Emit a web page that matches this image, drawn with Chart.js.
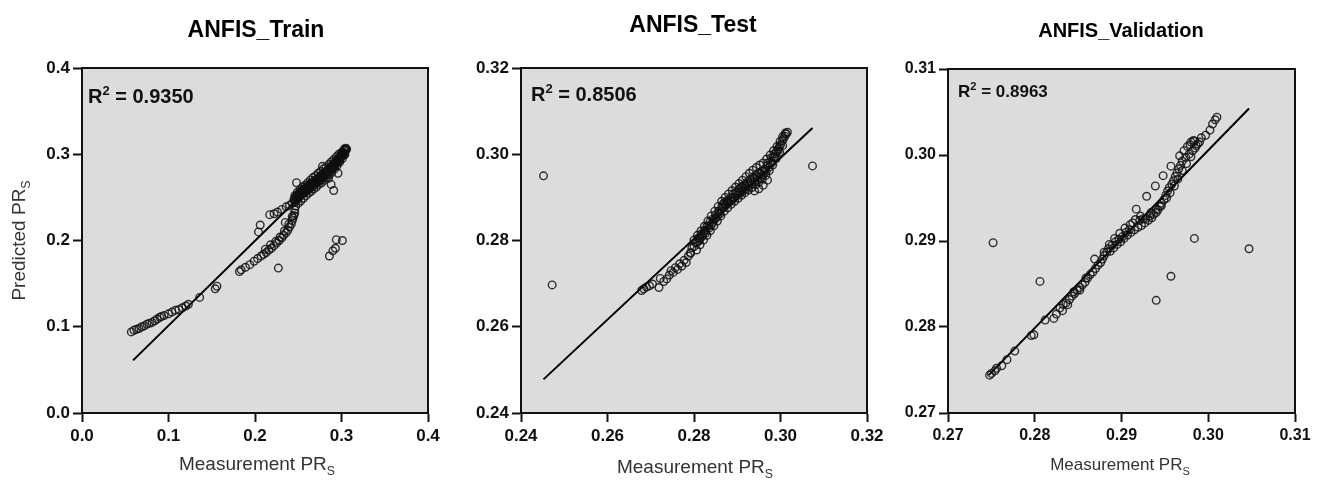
<!DOCTYPE html>
<html>
<head>
<meta charset="utf-8">
<script src="https://cdn.jsdelivr.net/npm/chart.js@4.4.1/dist/chart.umd.min.js"></script>
<style>
  body { margin: 0; background: #fff; }
  #wrap { position: relative; width: 1322px; height: 482px; }
  canvas { position: absolute; top: 0; }
</style>
</head>
<body>
<div id="wrap">
  <canvas id="c1" width="480" height="482" style="left:0px"></canvas>
  <canvas id="c2" width="480" height="482" style="left:440px"></canvas>
  <canvas id="c3" width="442" height="482" style="left:880px"></canvas>
</div>
<script>
// ---- data ----
const trainPts = [
  [0.057,0.094],[0.060,0.096],[0.063,0.097],[0.066,0.098],[0.069,0.100],[0.072,0.101],[0.075,0.103],[0.078,0.104],
  [0.081,0.105],[0.084,0.107],[0.087,0.109],[0.090,0.111],[0.092,0.112],[0.095,0.113],[0.100,0.115],[0.104,0.117],
  [0.108,0.119],[0.112,0.120],[0.116,0.122],[0.120,0.124],[0.123,0.126],[0.136,0.134],[0.154,0.144],[0.156,0.147],
  [0.182,0.164],[0.184,0.166],[0.189,0.169],[0.194,0.172],[0.199,0.176],[0.203,0.179],[0.207,0.182],[0.210,0.184],
  [0.213,0.186],[0.216,0.189],[0.219,0.191],[0.222,0.194],[0.225,0.197],[0.228,0.200],[0.231,0.203],[0.233,0.206],
  [0.236,0.209],[0.238,0.212],[0.240,0.216],[0.242,0.219],[0.243,0.223],[0.244,0.226],[0.245,0.229],[0.246,0.232],
  [0.212,0.190],[0.218,0.195],[0.224,0.199],[0.229,0.204],[0.234,0.211],[0.239,0.219],[0.243,0.228],[0.246,0.236],
  [0.247,0.240],
  [0.227,0.168],
  [0.204,0.210],[0.206,0.218],[0.217,0.230],[0.222,0.231],[0.226,0.233],[0.231,0.236],[0.236,0.239],[0.240,0.241],
  [0.235,0.221],[0.248,0.267],
  [0.243,0.243],[0.245,0.248],[0.246,0.244],[0.247,0.251],[0.248,0.246],[0.249,0.253],[0.250,0.249],[0.251,0.255],
  [0.252,0.251],[0.253,0.257],[0.254,0.253],[0.255,0.258],[0.256,0.255],[0.257,0.260],[0.258,0.256],[0.259,0.261],
  [0.260,0.258],[0.261,0.263],[0.262,0.259],[0.263,0.264],[0.264,0.261],[0.265,0.266],[0.266,0.262],[0.267,0.268],
  [0.268,0.264],[0.269,0.269],[0.270,0.266],[0.271,0.271],[0.272,0.267],[0.273,0.272],[0.274,0.269],[0.275,0.274],
  [0.276,0.270],[0.277,0.276],[0.278,0.272],[0.279,0.277],[0.280,0.274],[0.281,0.279],[0.282,0.276],[0.283,0.281],
  [0.284,0.278],[0.285,0.283],[0.286,0.280],[0.287,0.285],[0.288,0.282],[0.289,0.287],[0.290,0.284],[0.291,0.289],
  [0.292,0.287],[0.293,0.291],[0.294,0.289],[0.295,0.293],[0.296,0.292],[0.297,0.295],[0.298,0.294],[0.299,0.297],
  [0.300,0.297],[0.301,0.300],[0.302,0.300],[0.303,0.302],[0.304,0.304],[0.305,0.305],[0.306,0.306],
  [0.246,0.252],[0.249,0.256],[0.252,0.259],[0.255,0.262],[0.258,0.264],[0.261,0.267],[0.264,0.270],[0.267,0.273],
  [0.270,0.275],[0.273,0.278],[0.276,0.280],[0.279,0.283],[0.282,0.285],[0.285,0.288],[0.288,0.291],[0.291,0.294],
  [0.294,0.297],[0.297,0.300],[0.300,0.302],[0.303,0.306],[0.305,0.307],
  [0.250,0.243],[0.253,0.246],[0.256,0.249],[0.259,0.252],[0.262,0.255],[0.265,0.257],[0.268,0.260],[0.271,0.262],
  [0.274,0.265],[0.277,0.267],[0.280,0.270],[0.283,0.273],[0.286,0.276],[0.289,0.279],[0.292,0.283],[0.295,0.287],
  [0.298,0.291],[0.301,0.295],[0.304,0.300],
  [0.2475,0.249],[0.2505,0.252],[0.2535,0.255],[0.2565,0.258],[0.2595,0.2605],[0.2625,0.263],[0.2655,0.2655],
  [0.2685,0.268],[0.2715,0.2705],[0.2745,0.273],[0.2775,0.2755],[0.2805,0.278],[0.2835,0.281],[0.2865,0.284],
  [0.2895,0.287],[0.2925,0.2905],[0.2955,0.294],[0.2985,0.298],[0.3015,0.302],[0.3045,0.305],
  [0.246,0.247],[0.249,0.250],[0.252,0.254],[0.255,0.254],[0.258,0.260],[0.261,0.259],[0.264,0.266],[0.267,0.263],
  [0.270,0.270],[0.273,0.269],[0.276,0.275],[0.279,0.273],[0.282,0.280],[0.285,0.278],[0.288,0.286],[0.291,0.285],
  [0.294,0.293],[0.297,0.292],[0.300,0.300],[0.303,0.299],
  [0.278,0.286],[0.285,0.272],[0.288,0.265],[0.291,0.258],[0.296,0.278],
  [0.286,0.182],[0.290,0.188],[0.293,0.191],[0.294,0.201],[0.301,0.200]
];
const trainFitX = [0.059, 0.305];
const trainFitY = [0.061, 0.303];

const testPts = [
  [0.2452,0.2950],[0.2472,0.2697],[0.3074,0.2973],
  [0.2679,0.2684],[0.2684,0.2688],[0.2690,0.2692],[0.2697,0.2695],[0.2704,0.2699],[0.2719,0.2691],[0.2722,0.2712],
  [0.2730,0.2705],[0.2737,0.2711],[0.2743,0.2720],[0.2747,0.2730],[0.2752,0.2726],[0.2757,0.2737],[0.2762,0.2733],
  [0.2767,0.2746],[0.2772,0.2741],[0.2777,0.2754],[0.2782,0.2749],[0.2787,0.2764],[0.2792,0.2770],
  [0.2792,0.2772],[0.2795,0.2783],[0.2800,0.2786],[0.2803,0.2795],[0.2807,0.2795],[0.2810,0.2806],[0.2814,0.2803],
  [0.2817,0.2815],[0.2820,0.2812],[0.2824,0.2823],[0.2827,0.2822],[0.2830,0.2833],[0.2834,0.2834],[0.2837,0.2843],
  [0.2840,0.2836],[0.2844,0.2850],[0.2847,0.2848],[0.2850,0.2860],[0.2854,0.2856],[0.2857,0.2868],[0.2860,0.2862],
  [0.2864,0.2878],[0.2867,0.2875],[0.2870,0.2887],[0.2874,0.2882],[0.2877,0.2893],[0.2880,0.2888],[0.2884,0.2899],
  [0.2887,0.2893],[0.2890,0.2907],[0.2894,0.2900],[0.2897,0.2912],[0.2900,0.2905],[0.2904,0.2919],[0.2907,0.2910],
  [0.2910,0.2925],[0.2914,0.2915],[0.2917,0.2930],[0.2920,0.2920],[0.2924,0.2936],[0.2927,0.2926],[0.2930,0.2942],
  [0.2934,0.2931],[0.2937,0.2947],[0.2940,0.2936],[0.2944,0.2952],[0.2947,0.2941],[0.2950,0.2957],[0.2954,0.2946],
  [0.2957,0.2961],[0.2960,0.2952],[0.2964,0.2966],[0.2967,0.2960],[0.2970,0.2974],[0.2974,0.2970],[0.2977,0.2983],
  [0.2980,0.2980],[0.2984,0.2993],[0.2987,0.2994],[0.2990,0.3005],[0.2994,0.3008],[0.2997,0.3017],[0.3000,0.3022],
  [0.3004,0.3031],[0.3007,0.3036],[0.3010,0.3042],[0.3013,0.3047],[0.3016,0.3051],
  [0.2800,0.2801],[0.2808,0.2812],[0.2816,0.2822],[0.2824,0.2833],[0.2832,0.2845],[0.2840,0.2857],[0.2848,0.2868],
  [0.2856,0.2879],[0.2864,0.2891],[0.2872,0.2900],[0.2880,0.2908],[0.2888,0.2916],[0.2896,0.2924],[0.2904,0.2932],
  [0.2912,0.2940],[0.2920,0.2948],[0.2928,0.2956],[0.2936,0.2963],[0.2944,0.2969],[0.2952,0.2975],[0.2960,0.2980],
  [0.2968,0.2989],[0.2976,0.2998],[0.2984,0.3008],[0.2992,0.3018],[0.2999,0.3030],[0.3005,0.3041],[0.3011,0.3049],
  [0.2806,0.2778],[0.2814,0.2790],[0.2822,0.2801],[0.2830,0.2812],[0.2838,0.2823],[0.2846,0.2834],[0.2854,0.2845],
  [0.2862,0.2857],[0.2870,0.2868],[0.2878,0.2876],[0.2886,0.2884],[0.2894,0.2891],[0.2902,0.2898],[0.2910,0.2905],
  [0.2918,0.2911],[0.2926,0.2917],[0.2934,0.2923],[0.2942,0.2929],[0.2950,0.2935],[0.2958,0.2942],[0.2966,0.2951],
  [0.2974,0.2962],[0.2982,0.2975],[0.2990,0.2990],[0.2998,0.3005],[0.3005,0.3020],
  [0.2940,0.2915],[0.2950,0.2920],[0.2960,0.2928],[0.2970,0.2940],
  [0.2811,0.2799],[0.2819,0.2810],[0.2827,0.2817],[0.2835,0.2829],[0.2843,0.2842],[0.2851,0.2852],[0.2859,0.2866],
  [0.2867,0.2884],[0.2875,0.2889],[0.2883,0.2893],[0.2891,0.2899],[0.2899,0.2912],[0.2907,0.2922],[0.2915,0.2927],
  [0.2923,0.2931],[0.2931,0.2936],[0.2939,0.2943],[0.2947,0.2948],[0.2955,0.2955],[0.2963,0.2962],[0.2971,0.2980],
  [0.2979,0.2992],[0.2987,0.3001],[0.2995,0.3012]
];
const testFitX = [0.2452, 0.3074];
const testFitY = [0.2478, 0.3061];

const validPts = [
  [0.2752,0.2898],[0.2806,0.2853],[0.2940,0.2831],[0.2957,0.2859],[0.2984,0.2903],[0.3047,0.2891],
  [0.2748,0.2744],[0.2750,0.2746],[0.2754,0.2749],[0.2756,0.2752],[0.2762,0.2755],[0.2768,0.2762],[0.2777,0.2772],
  [0.2796,0.2790],[0.2799,0.2791],[0.2812,0.2808],[0.2822,0.2810],[0.2825,0.2815],[0.2829,0.2822],[0.2833,0.2826],
  [0.2832,0.2819],[0.2836,0.2828],[0.2840,0.2832],[0.2843,0.2836],[0.2846,0.2839],[0.2849,0.2843],[0.2852,0.2846],
  [0.2855,0.2849],[0.2858,0.2852],[0.2861,0.2857],[0.2864,0.2861],[0.2867,0.2864],[0.2869,0.2879],[0.2870,0.2868],
  [0.2873,0.2872],[0.2876,0.2875],[0.2878,0.2879],[0.2880,0.2883],[0.2883,0.2887],[0.2885,0.2891],[0.2887,0.2888],
  [0.2889,0.2895],[0.2891,0.2892],[0.2893,0.2899],[0.2895,0.2896],[0.2897,0.2902],[0.2899,0.2899],[0.2901,0.2905],
  [0.2903,0.2903],[0.2905,0.2910],[0.2907,0.2907],[0.2909,0.2913],[0.2911,0.2910],[0.2913,0.2921],[0.2915,0.2913],
  [0.2917,0.2937],[0.2919,0.2916],[0.2921,0.2924],[0.2923,0.2918],[0.2925,0.2926],[0.2927,0.2921],[0.2929,0.2952],
  [0.2931,0.2924],[0.2933,0.2929],[0.2935,0.2927],[0.2937,0.2931],[0.2939,0.2964],[0.2940,0.2933],[0.2942,0.2936],
  [0.2944,0.2940],[0.2946,0.2944],[0.2948,0.2976],[0.2949,0.2948],[0.2951,0.2953],[0.2953,0.2958],[0.2955,0.2962],
  [0.2957,0.2987],[0.2958,0.2966],[0.2960,0.2970],[0.2962,0.2975],[0.2964,0.2979],[0.2966,0.2984],[0.2967,0.2999],
  [0.2968,0.2988],[0.2970,0.2993],[0.2972,0.3005],[0.2974,0.2997],[0.2976,0.3010],[0.2978,0.3001],[0.2980,0.3015],
  [0.2982,0.3005],[0.2984,0.3016],[0.2986,0.3011],[0.2990,0.3015],[0.2997,0.3023],[0.3002,0.3029],[0.3005,0.3036],
  [0.3008,0.3041],[0.3010,0.3044],
  [0.2880,0.2887],[0.2886,0.2896],[0.2892,0.2903],[0.2898,0.2909],[0.2904,0.2915],[0.2910,0.2919],[0.2916,0.2925],
  [0.2922,0.2929],[0.2928,0.2926],[0.2934,0.2933],[0.2940,0.2937],[0.2946,0.2941],[0.2952,0.2950],[0.2956,0.2956],
  [0.2961,0.2964],[0.2965,0.2972],[0.2970,0.2982],[0.2975,0.2990],[0.2980,0.2998],[0.2985,0.3008],[0.2988,0.3013],
  [0.2983,0.3017],[0.2979,0.3012],[0.2992,0.3020],
  [0.2838,0.2826],[0.2845,0.2841],[0.2852,0.2843],[0.2859,0.2857]
];
const validFitX = [0.2747, 0.3047];
const validFitY = [0.2744, 0.3054];

const trainTicks = [0, 0.1, 0.2, 0.3, 0.4];
const testTicks = [0.24, 0.26, 0.28, 0.30, 0.32];
const validTicks = [0.27, 0.28, 0.29, 0.30, 0.31];

const FONT = '"Liberation Sans", Arial, sans-serif';

// draw text pieces with sub/superscript
function richText(ctx, parts, x, y, size, weight, align) {
  const widths = parts.map(p => {
    const s = p.sub || p.sup ? size * 0.65 : size;
    ctx.font = weight + ' ' + s + 'px ' + FONT;
    return ctx.measureText(p.t).width;
  });
  const total = widths.reduce((a, b) => a + b, 0);
  let cx = align === 'center' ? x - total / 2 : x;
  ctx.textAlign = 'left';
  ctx.textBaseline = 'alphabetic';
  parts.forEach((p, i) => {
    const s = p.sub || p.sup ? size * 0.65 : size;
    ctx.font = weight + ' ' + s + 'px ' + FONT;
    let dy = 0;
    if (p.sub) dy = size * 0.28;
    if (p.sup) dy = -size * 0.42;
    ctx.fillText(p.t, cx, y + dy);
    cx += widths[i];
  });
}

const deco = {
  id: 'deco',
  beforeDraw(chart) {
    const a = chart.chartArea, ctx = chart.ctx;
    ctx.save();
    ctx.fillStyle = '#dcdcdc';
    ctx.fillRect(a.left, a.top, a.right - a.left, a.bottom - a.top);
    ctx.restore();
  },
  afterDraw(chart, args, o) {
    const a = chart.chartArea, ctx = chart.ctx;
    ctx.save();
    ctx.strokeStyle = '#111';
    ctx.lineWidth = 2;
    ctx.strokeRect(a.left, a.top, a.right - a.left, a.bottom - a.top);

    ctx.fillStyle = '#000';
    ctx.font = 'bold ' + o.titleSize + 'px ' + FONT;
    ctx.textAlign = 'center';
    ctx.fillText(o.title, o.titleX, o.titleY);

    ctx.fillStyle = '#111';
    richText(ctx, [{t: 'R'}, {t: '2', sup: true}, {t: ' = ' + o.r2}], a.left + o.r2Dx, a.top + o.r2Dy, o.r2Size, 'bold', 'left');

    ctx.fillStyle = '#333';
    richText(ctx, [{t: 'Measurement PR'}, {t: 'S', sub: true}], o.xTitleX, o.xTitleY, o.axisSize, 'normal', 'center');

    if (o.yTitle) {
      ctx.translate(18, (a.top + a.bottom) / 2);
      ctx.rotate(-Math.PI / 2);
      richText(ctx, [{t: 'Predicted PR'}, {t: 'S', sub: true}], 0, 7, o.axisSize, 'normal', 'center');
    }
    ctx.restore();
  }
};

function makePanel(id, p) {
  const axisBase = (ticks, dec) => ({
    type: 'linear',
    min: ticks[0],
    max: ticks[ticks.length - 1],
    afterBuildTicks: s => { s.ticks = ticks.map(v => ({ value: v })); },
    ticks: {
      color: '#111',
      font: { family: FONT, size: p.tickSize, weight: 'bold' },
      callback: v => Number(v).toFixed(dec),
      maxRotation: 0,
      autoSkip: false
    },
    grid: { drawOnChartArea: false, drawTicks: true, tickLength: 9, tickColor: '#111', tickWidth: 2 },
    border: { display: true, color: '#111', width: 2 }
  });
  const xs = axisBase(p.ticks, p.dec);
  xs.ticks.padding = 4;
  xs.afterFit = s => { s.height = 482 - p.bottom; };
  const ys = axisBase(p.ticks, p.dec);
  ys.ticks.padding = 3;
  ys.afterFit = s => { s.width = p.left; };

  new Chart(document.getElementById(id), {
    type: 'scatter',
    data: {
      datasets: [{
        data: p.pts.map(q => ({ x: q[0], y: q[1] })),
        pointStyle: 'circle',
        pointRadius: 3.8,
        borderWidth: 1.4,
        borderColor: 'rgba(15,15,15,0.85)',
        backgroundColor: 'rgba(0,0,0,0)'
      }, {
        data: p.fitX.map((v, i) => ({ x: v, y: p.fitY[i] })),
        showLine: true,
        pointRadius: 0,
        borderColor: '#000',
        borderWidth: 2
      }]
    },
    options: {
      responsive: false,
      animation: false,
      devicePixelRatio: 1,
      layout: { padding: { top: p.top, right: p.width - p.right, bottom: 0, left: 0 } },
      scales: { x: xs, y: ys },
      plugins: {
        legend: { display: false },
        tooltip: { enabled: false },
        deco: p.deco
      }
    },
    plugins: [deco]
  });
}

makePanel('c1', {
  pts: trainPts, fitX: trainFitX, fitY: trainFitY, ticks: trainTicks, dec: 1,
  width: 480, left: 82, right: 428, top: 68, bottom: 413, tickSize: 17,
  deco: { title: 'ANFIS_Train', titleX: 256, titleY: 37, titleSize: 23, r2: '0.9350', r2Dx: 6, r2Dy: 35, r2Size: 20,
          xTitleX: 257, xTitleY: 470, axisSize: 19, yTitle: true }
});
makePanel('c2', {
  pts: testPts, fitX: testFitX, fitY: testFitY, ticks: testTicks, dec: 2,
  width: 480, left: 81, right: 427, top: 68, bottom: 413, tickSize: 17,
  deco: { title: 'ANFIS_Test', titleX: 253, titleY: 32, titleSize: 23, r2: '0.8506', r2Dx: 10, r2Dy: 33, r2Size: 20,
          xTitleX: 255, xTitleY: 473, axisSize: 19, yTitle: false }
});
makePanel('c3', {
  pts: validPts, fitX: validFitX, fitY: validFitY, ticks: validTicks, dec: 2,
  width: 442, left: 68, right: 415, top: 69, bottom: 413, tickSize: 16,
  deco: { title: 'ANFIS_Validation', titleX: 241, titleY: 37, titleSize: 20, r2: '0.8963', r2Dx: 10, r2Dy: 28, r2Size: 17,
          xTitleX: 240, xTitleY: 470, axisSize: 17, yTitle: false }
});
</script>
</body>
</html>
